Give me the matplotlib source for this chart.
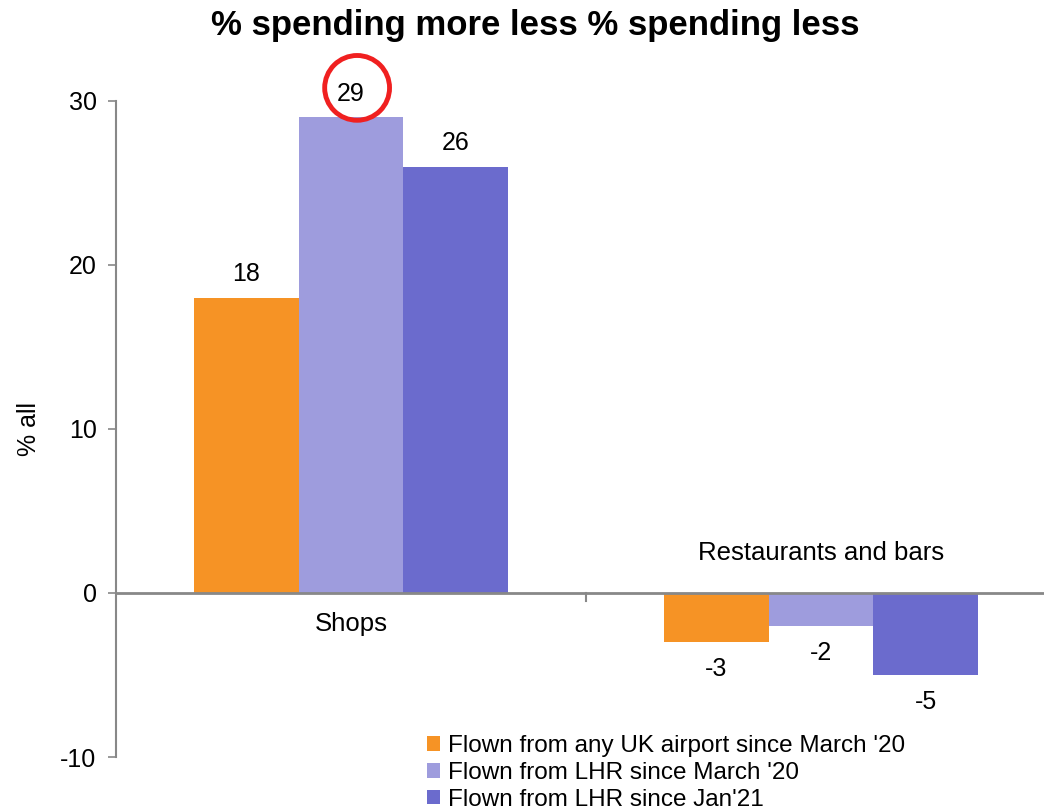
import matplotlib
matplotlib.use("Agg")
import matplotlib.pyplot as plt
from matplotlib.patches import Ellipse
from matplotlib.ticker import FuncFormatter
import numpy as np

plt.rcParams['font.family'] = ['Liberation Sans', 'DejaVu Sans']

categories = ["Shops", "Restaurants and bars"]
series_names = ["Flown from any UK airport since March '20",
                "Flown from LHR since March '20",
                "Flown from LHR since Jan'21"]
any_uk_mar20 = [18, -3]
lhr_mar20 = [29, -2]
lhr_jan21 = [26, -5]
series_values = [any_uk_mar20, lhr_mar20, lhr_jan21]
colors = ["#F69325", "#9E9CDD", "#6B6BCD"]
yticks = [-10, 0, 10, 20, 30]

W, H = 1044, 808
fig = plt.figure(figsize=(W / 100, H / 100), dpi=100)
left, right, top, bottom = 116, 1056, 101, 757
ax = fig.add_axes([left / W, 1 - bottom / H, (right - left) / W, (bottom - top) / H])

x = np.arange(len(categories))
bw = 0.223
for i, (vals, c, name) in enumerate(zip(series_values, colors, series_names)):
    pos = x + (i - 1) * bw
    ax.bar(pos, vals, width=bw, color=c, label=name, zorder=2)
    for p, v in zip(pos, vals):
        dy = 17 if v >= 0 else -19.5
        ax.annotate(str(v), (p, v), xytext=(0, dy), textcoords='offset points',
                    ha='center', va='center', fontsize=18)

ax.set_xlim(-0.5, 1.5)
ax.set_ylim(-10, 30)
ax.set_yticks(yticks)
ax.yaxis.set_major_formatter(FuncFormatter(lambda v, p: f"{int(v)}"))
ax.tick_params(axis='y', labelsize=18, color='#888888', length=6, width=1.2, pad=8)
ax.set_xticks([])

for s in ['top', 'right', 'bottom']:
    ax.spines[s].set_visible(False)
ax.spines['left'].set_color('#888888')
ax.spines['left'].set_linewidth(1.5)
ax.axhline(0, color='#888888', lw=2, zorder=3)
# category separator tick
ax.plot([0.5, 0.5], [0, -0.5], color='#888888', lw=1.5, zorder=3)

# category labels
for xi, cat, vals in zip(x, categories, zip(*series_values)):
    dy = -22 if min(vals) >= 0 else 29
    ax.annotate(cat, (xi, 0), xytext=(0, dy), textcoords='offset points',
                ha='center', va='center', fontsize=18.5)

ax.set_ylabel("% all", fontsize=18, labelpad=14)

fig.text(535 / W, 1 - 25 / H, "% spending more less % spending less",
         ha='center', va='center', fontsize=25, fontweight='bold')

# red circle highlight around 29
ell = Ellipse((0.013, 30.8), width=0.138, height=3.95, fill=False, edgecolor='#F02020',
              lw=3.5, clip_on=False, zorder=5)
ax.add_patch(ell)

leg = fig.legend(loc='upper left', bbox_to_anchor=(427 / W, 1 - 735 / H), frameon=False,
                 fontsize=17.5, handlelength=0.55, handleheight=0.55, handletextpad=0.3,
                 labelspacing=0.2, borderaxespad=0, borderpad=0)

fig.savefig("out.png", dpi=100)
